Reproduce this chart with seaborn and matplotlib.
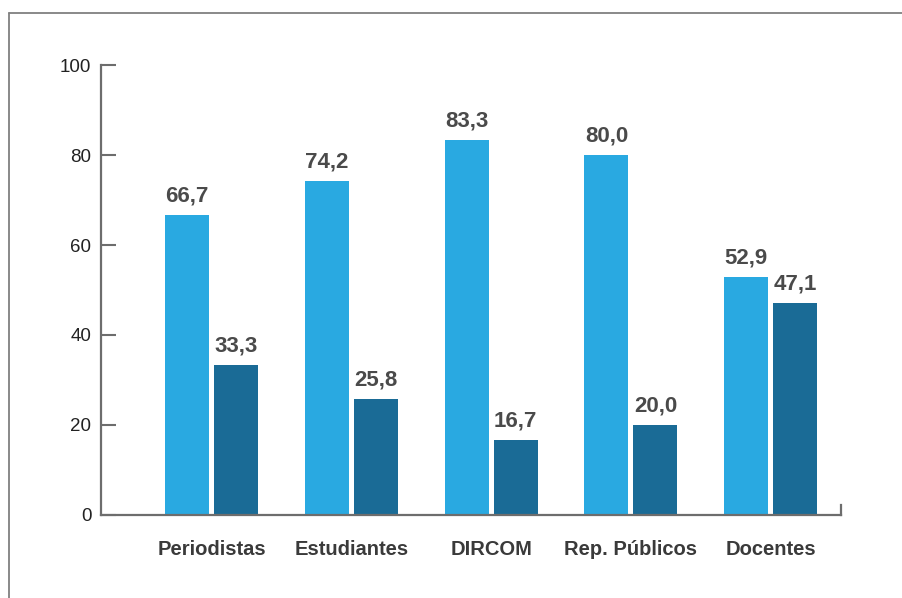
import pandas as pd
import numpy as np
import matplotlib.pyplot as plt
import seaborn as sns
from matplotlib.lines import Line2D

categories = ['Periodistas', 'Estudiantes', 'DIRCOM', 'Rep. Públicos', 'Docentes']
serie_a = [66.7, 74.2, 83.3, 80.0, 52.9]
serie_b = [33.3, 25.8, 16.7, 20.0, 47.1]
series = ['A', 'B']
colors = ['#29a9e1', '#1a6b96']
yticks = [0, 20, 40, 60, 80, 100]

df = pd.DataFrame({
    'categoria': categories * 2,
    'serie': [series[0]] * len(categories) + [series[1]] * len(categories),
    'valor': serie_a + serie_b,
})

sns.set_style('white')
bold_font = ['Liberation Sans', 'DejaVu Sans']
plt.rcParams['font.family'] = ['Liberation Sans', 'DejaVu Sans']

fig = plt.figure(figsize=(9.02, 5.98), dpi=100)
ax = fig.add_axes([0.112, 0.1388, 0.82, 0.7525])

sns.barplot(data=df, x='categoria', y='valor', hue='serie', palette=colors,
            width=0.70, gap=0.1, saturation=1, legend=False, linewidth=0,
            ax=ax)

ax.set_xlim(-0.79, 4.5)
ax.set_ylim(0, 100)
ax.set_yticks(yticks)
ax.set_yticklabels([str(t) for t in yticks], fontsize=13.5, color='#222222')
ax.set_xlabel('')
ax.set_ylabel('')
ax.set_xticks(range(len(categories)))
ax.set_xticklabels(categories, fontsize=14.5, fontweight='bold', color='#3a3a3a',
                   family=bold_font)
ax.tick_params(axis='x', length=0, pad=18)
ax.tick_params(axis='y', left=True, direction='in', length=11, width=1.5,
               color='#6d6d6d', pad=7)

ax.spines['top'].set_visible(False)
for side in ['left', 'bottom', 'right']:
    ax.spines[side].set_color('#6d6d6d')
    ax.spines[side].set_linewidth(1.6)
ax.spines['right'].set_bounds(0, 2.2)

for cont in ax.containers:
    for bar in cont:
        h = bar.get_height()
        ax.annotate(f'{h:.1f}'.replace('.', ','),
                    (bar.get_x() + bar.get_width() / 2, h),
                    xytext=(0, 6), textcoords='offset points',
                    ha='center', va='bottom', fontsize=16, fontweight='bold',
                    color='#4a4a4a', family=bold_font)

# outer frame (top and left)
fig.add_artist(Line2D([0.01, 1.0], [0.978, 0.978], transform=fig.transFigure,
                      color='#808080', lw=1.3))
fig.add_artist(Line2D([0.01, 0.01], [0.0, 0.978], transform=fig.transFigure,
                      color='#808080', lw=1.3))

fig.savefig('out.png', dpi=100)
